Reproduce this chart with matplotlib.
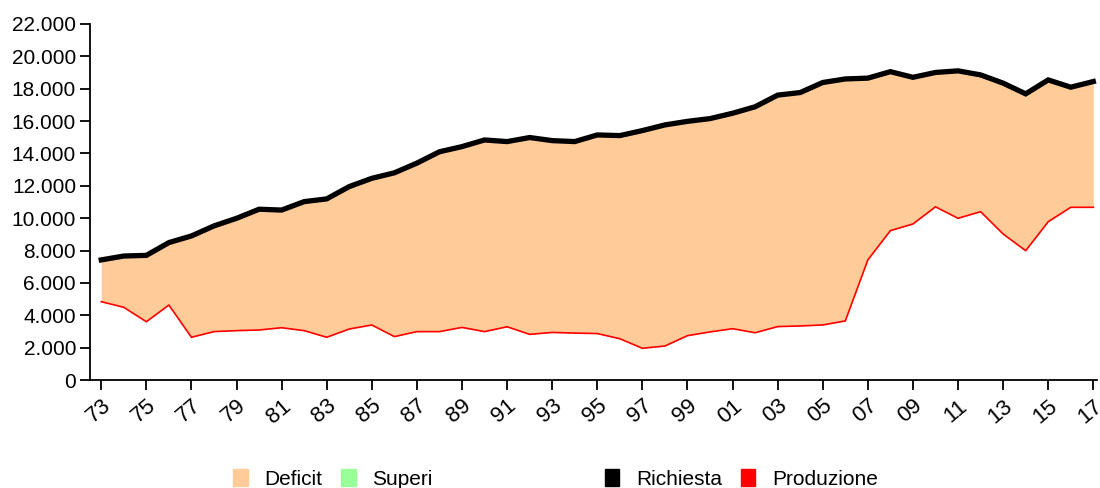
import matplotlib
matplotlib.use("Agg")
import matplotlib.pyplot as plt
from matplotlib.patches import Patch
from matplotlib.ticker import FuncFormatter, MultipleLocator

years = list(range(1973, 2018))
richiesta = [7420, 7660, 7700, 8490, 8900, 9520, 9990, 10550, 10500, 11020,
             11190, 11950, 12460, 12800, 13400, 14100, 14420, 14830, 14730, 14980,
             14790, 14730, 15140, 15100, 15410, 15760, 15980, 16150, 16480, 16880,
             17600, 17760, 18380, 18600, 18650, 19050, 18700, 19000, 19100, 18850,
             18340, 17680, 18540, 18090, 18440]
produzione = [4840, 4490, 3600, 4630, 2640, 2990, 3050, 3090, 3230, 3050,
              2640, 3150, 3400, 2680, 2990, 2990, 3250, 2990, 3290, 2820,
              2940, 2900, 2870, 2550, 1960, 2100, 2740, 2970, 3170, 2920,
              3300, 3340, 3400, 3650, 7420, 9230, 9640, 10700, 9990, 10400,
              9020, 7990, 9780, 10670, 10670]

plt.rcParams["font.family"] = ["Liberation Sans", "DejaVu Sans"]

fig = plt.figure(figsize=(11, 4.88), dpi=100)
ax = fig.add_axes([0.0818, 0.2213, 0.9152, 0.7297])

ax.fill_between(years, produzione, richiesta,
                where=[p <= r for p, r in zip(produzione, richiesta)],
                color="#FFCC99", linewidth=0, interpolate=True)
ax.fill_between(years, produzione, richiesta,
                where=[p > r for p, r in zip(produzione, richiesta)],
                color="#99FF99", linewidth=0, interpolate=True)
ax.plot(years, produzione, color="#FF0000", lw=1.2)
ax.plot(years, richiesta, color="black", lw=3.8, solid_joinstyle="miter")

ax.set_xlim(1972.5, 2017.15)
ax.set_ylim(0, 22000)
ax.yaxis.set_major_locator(MultipleLocator(2000))
ax.yaxis.set_major_formatter(FuncFormatter(lambda v, _: f"{v:,.0f}".replace(",", ".")))
xt = years[::2]
ax.set_xticks(xt)
ax.set_xticklabels([f"{y % 100:02d}" for y in xt], rotation=40, ha="right",
                   rotation_mode="anchor")
ax.tick_params(labelsize=15, length=7, width=1.3, colors="black")
ax.tick_params(axis="x", pad=4, labelsize=16)
ax.tick_params(axis="y", pad=3)
for side in ("top", "right"):
    ax.spines[side].set_visible(False)
for side in ("left", "bottom"):
    ax.spines[side].set_linewidth(1.3)

handles = [Patch(color="#FFCC99"), Patch(color="#99FF99"), Patch(color="white"),
           Patch(color="black"), Patch(color="#FF0000")]
labels = ["Deficit", "Superi", " " * 18, "Richiesta", "Produzione"]
fig.legend(handles, labels, loc="lower center", bbox_to_anchor=(0.505, -0.04),
           ncol=5, frameon=False, fontsize=15, handlelength=0.7, handleheight=0.9,
           handletextpad=0.8, columnspacing=0.9)

fig.savefig("out.png", dpi=100)
